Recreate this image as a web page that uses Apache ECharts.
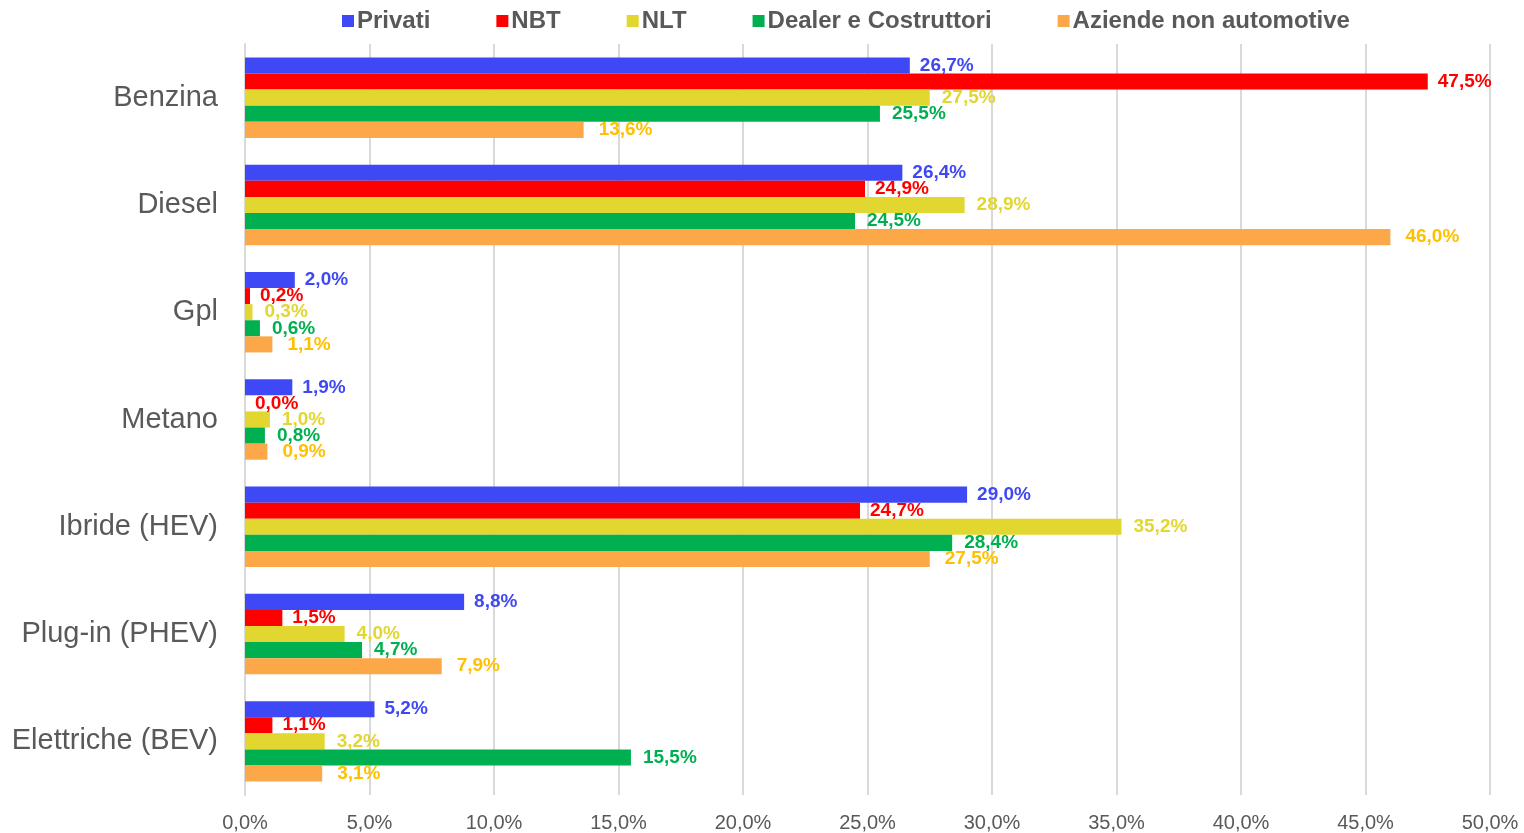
<!DOCTYPE html>
<html><head><meta charset="utf-8">
<script src="https://cdn.jsdelivr.net/npm/echarts@6/dist/echarts.min.js"></script>
<style>html,body{margin:0;padding:0;background:#fff}#c{width:1524px;height:833px}</style>
</head><body><div id="c"></div>
<script>
const categories = ["Benzina","Diesel","Gpl","Metano","Ibride (HEV)","Plug-in (PHEV)","Elettriche (BEV)"];
const seriesNames = ["Privati","NBT","NLT","Dealer e Costruttori","Aziende non automotive"];
const privati = [26.7,26.4,2.0,1.9,29.0,8.8,5.2];
const nbt = [47.5,24.9,0.2,0.0,24.7,1.5,1.1];
const nlt = [27.5,28.9,0.3,1.0,35.2,4.0,3.2];
const dealer = [25.5,24.5,0.6,0.8,28.4,4.7,15.5];
const aziende = [13.6,46.0,1.1,0.9,27.5,7.9,3.1];
const xTicks = [0,5,10,15,20,25,30,35,40,45,50];

const data = [privati,nbt,nlt,dealer,aziende];
const colors = ["#3F48F5","#FF0000","#E2D631","#00B050","#FDA848"];
const labelColors = ["#3F48F5","#FF0000","#E2D631","#00B050","#FFC000"];
const labelDist = [10,10,12,12,15];
const fmt = v => v.toFixed(1).replace('.', ',') + '%';

const chart = echarts.init(document.getElementById('c'));
chart.setOption({
  animation:false,
  legend:{
    top:4,left:337,itemWidth:12,itemHeight:12,itemGap:66,
    icon:'rect',
    textStyle:{fontFamily:'Liberation Sans, Arial',fontSize:24,fontWeight:'bold',color:'#595959',padding:[0,0,0,-2]},
    data:seriesNames
  },
  grid:{left:245,right:34,top:44,bottom:38},
  xAxis:{
    type:'value',min:xTicks[0],max:xTicks[xTicks.length-1],interval:5,
    axisLine:{show:false},axisTick:{show:false},
    splitLine:{lineStyle:{color:'#D9D9D9',width:2}},
    axisLabel:{fontFamily:'Liberation Sans, Arial',fontSize:20,color:'#595959',margin:18,
      formatter:v=>fmt(v)}
  },
  yAxis:{
    type:'category',data:categories,inverse:true,
    axisLine:{show:true,lineStyle:{color:'#D9D9D9',width:2}},axisTick:{show:false},
    axisLabel:{fontFamily:'Liberation Sans, Arial',fontSize:29,color:'#595959',margin:27}
  },
  series:seriesNames.map((n,i)=>({
    name:n,type:'bar',data:data[i],
    barGap:'0%',barCategoryGap:'25%',
    itemStyle:{color:colors[i]},
    label:{show:true,position:'right',distance:labelDist[i],
      fontFamily:'Liberation Sans, Arial',fontSize:19,fontWeight:'bold',color:labelColors[i],
      formatter:p=>fmt(p.value)}
  }))
});
</script></body></html>
